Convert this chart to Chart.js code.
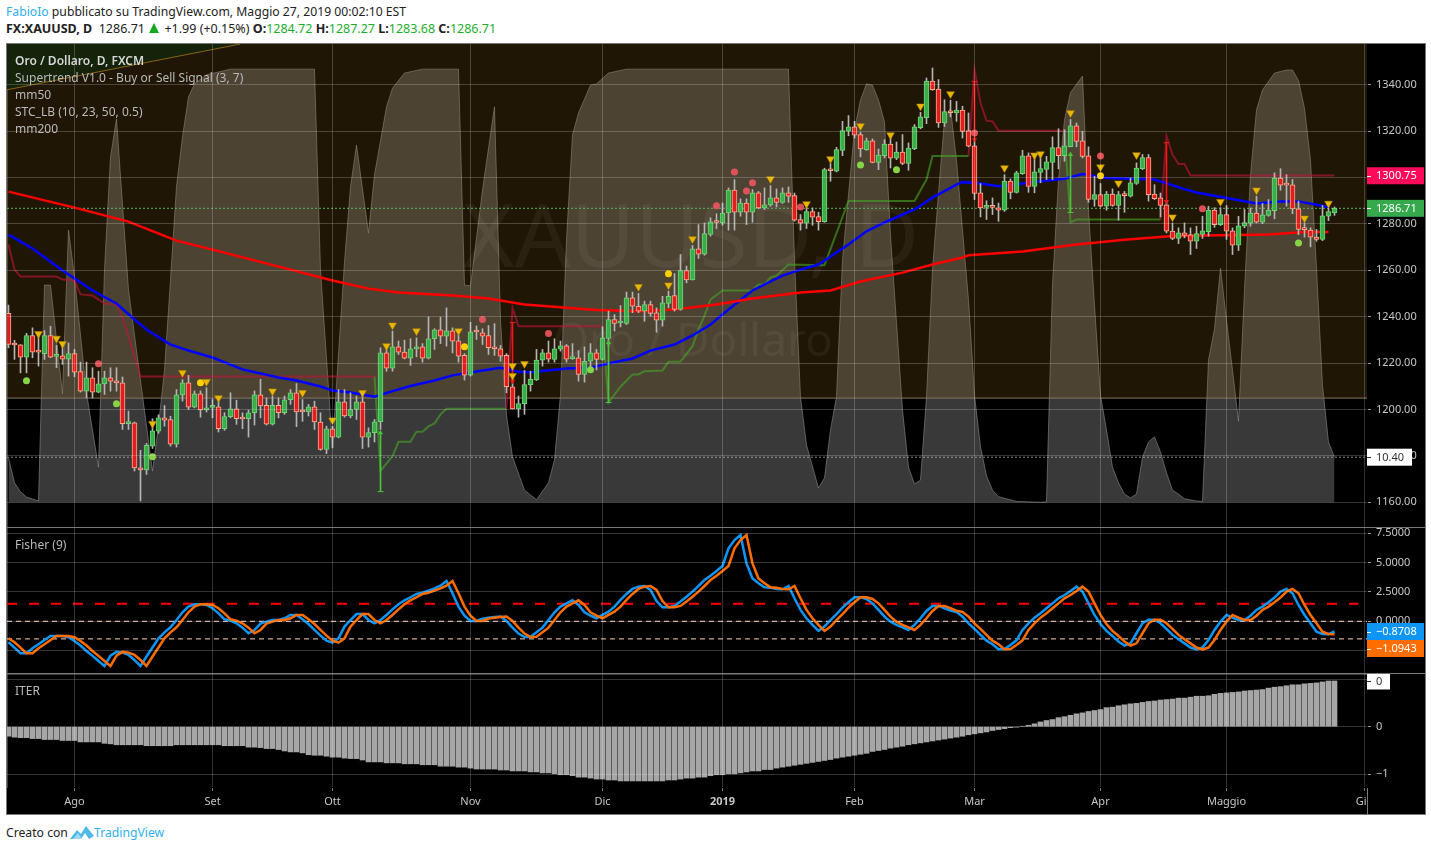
<!DOCTYPE html>
<html lang="it">
<head>
<meta charset="utf-8">
<title>XAUUSD</title>
<script src="https://cdn.jsdelivr.net/npm/chart.js@4/dist/chart.umd.min.js"></script>
<style>
    html, body { margin: 0; padding: 0; background: #fff; width: 1431px; height: 851px; overflow: hidden; }
    body { font-family: "Noto Sans", sans-serif; position: relative; }
    canvas { position: absolute; left: 7px; }
    .abs { position: absolute; white-space: nowrap; }
    #line1 { left: 6px; top: 3px; font-size: 12.2px; line-height: 18px; color: #222; }
    #line2 { left: 6px; top: 20px; font-size: 12.5px; line-height: 18px; color: #222; }
    #line1 .user, #footer .brand { color: #2fb0ee; }
    #line2 b { font-weight: 700; }
    #line2 .g { color: #1eae2e; }
    #line2 .tri { display: inline-block; width: 0; height: 0; border-left: 5.5px solid transparent; border-right: 5.5px solid transparent; border-bottom: 10px solid #12a81f; margin: 0 2px 0 1px; }
    #frame { left: 6px; top: 43px; width: 1418px; height: 770px; background: #000; border: 1px solid #787878; }
    .split { left: 7px; width: 1418px; height: 1px; background: #787878; z-index: 3; }
    #axisCorner { left: 1367px; top: 788px; width: 57px; height: 26px; background: #000; border-left: 1px solid #787878; z-index: 3; }
    .legend { left: 15px; font-size: 12px; line-height: 17px; color: #b9b9b9; z-index: 4; }
    .legend b { color: #d6d6d6; font-weight: 600; }
    #footer { left: 6px; top: 824px; font-size: 12.2px; line-height: 18px; color: #222; }
    #footer svg { vertical-align: -3px; margin: 0 0 0 -1px; }
</style>
</head>
<body>
<div class="abs" id="line1"><span class="user">FabioIo</span> pubblicato su TradingView.com, Maggio 27, 2019 00:02:10 EST</div>
<div class="abs" id="line2"><b>FX:XAUUSD, D</b>&nbsp; 1286.71 <span class="tri"></span> +1.99 (+0.15%) <b>O:</b><span class="g">1284.72</span> <b>H:</b><span class="g">1287.27</span> <b>L:</b><span class="g">1283.68</span> <b>C:</b><span class="g">1286.71</span></div>
<div class="abs" id="frame"></div>
<canvas id="mainChart" width="1418" height="483" style="top:44px"></canvas>
<canvas id="fisherChart" width="1418" height="145" style="top:528px"></canvas>
<canvas id="iterChart" width="1418" height="140" style="top:674px"></canvas>
<div class="abs split" style="top:527px"></div>
<div class="abs split" style="top:673px"></div>
<div class="abs" id="axisCorner"></div>
<div class="abs legend" style="top:52px"><b>Oro / Dollaro, D, FXCM</b><br>Supertrend V1.0 - Buy or Sell Signal (3, 7)<br>mm50<br>STC_LB (10, 23, 50, 0.5)<br>mm200</div>
<div class="abs legend" style="top:536px">Fisher (9)</div>
<div class="abs legend" style="top:682px">ITER</div>
<div class="abs" id="footer">Creato con <svg width="24" height="16" viewBox="0 0 24 16"><path d="M0 15 L7 6 L11 10 L16 2 L24 12 L19 15 L15 9 L11 15 Z" fill="#4fb9e8"/><path d="M3 15 L8 9 L12 15 Z" fill="#9bdcf4"/></svg><span class="brand">TradingView</span></div>

<script>
// ==========================================
// DATI
// ==========================================
const monthIdx = [11, 34, 54, 77, 99, 119, 141, 161, 182, 203, 226];
const monthLabels = ['Ago', 'Set', 'Ott', 'Nov', 'Dic', '2019', 'Feb', 'Mar', 'Apr', 'Maggio', 'Giu'];
const priceTicks = [1340, 1320, 1300, 1280, 1260, 1240, 1220, 1200, 1180, 1160];
const fisherTicks = [7.5, 5, 2.5, 0, -2.5];
const fisherTickLabels = ['7.5000', '5.0000', '2.5000', '0.0000', '\u22122.5000'];
const iterTicks = [1, 0, -1];
const iterTickLabels = ['1', '0', '\u22121'];

const candleOpen = [
    1241.4,1228.0,1227.9,1222.6,1231.9,1224.9,1224.1,1231.9,1222.9,1223.1,
    1221.7,1224.1,1216.3,1207.9,1213.7,1207.5,1211.0,1213.7,1212.4,1211.5,
    1193.9,1194.3,1174.9,1173.9,1184.2,1190.7,1196.4,1195.7,1185.0,1206.3,
    1211.5,1201.0,1206.8,1199.8,1200.9,1201.2,1191.7,1196.9,1200.3,1196.1,
    1196.0,1198.6,1206.3,1201.8,1193.7,1201.8,1198.6,1204.2,1207.2,1199.1,
    1198.9,1201.2,1194.6,1182.8,1191.7,1188.1,1203.3,1197.2,1200.0,1203.3,
    1188.1,1190.0,1194.7,1224.4,1217.8,1227.0,1224.7,1222.1,1226.1,1227.0,
    1222.1,1230.5,1234.3,1231.6,1233.9,1229.6,1223.3,1214.8,1233.6,1233.0,
    1231.9,1226.4,1226.1,1223.3,1209.8,1200.3,1202.5,1210.7,1212.7,1221.3,
    1224.4,1221.6,1226.1,1227.4,1221.9,1222.3,1215.1,1220.8,1224.4,1221.6,
    1230.6,1238.8,1237.3,1237.1,1248.1,1244.5,1242.4,1245.2,1241.7,1238.5,
    1245.7,1249.1,1243.1,1259.9,1255.8,1269.2,1266.9,1275.5,1280.8,1280.4,
    1284.7,1294.6,1285.0,1289.0,1285.0,1293.4,1286.9,1288.2,1291.2,1289.3,
    1293.4,1292.2,1281.9,1280.3,1285.3,1283.2,1281.0,1303.1,1302.7,1311.7,
    1320.0,1321.8,1318.5,1312.0,1315.8,1306.5,1309.4,1314.4,1308.3,1311.0,
    1306.1,1312.4,1321.5,1325.8,1341.6,1338.1,1323.5,1328.1,1327.8,1329.1,
    1320.2,1313.7,1293.4,1287.1,1287.3,1286.9,1285.9,1298.5,1293.6,1301.7,
    1309.3,1296.2,1302.2,1303.5,1306.5,1312.9,1309.4,1313.3,1322.3,1315.8,
    1309.3,1290.6,1292.6,1287.6,1292.9,1288.0,1292.4,1291.9,1297.4,1303.8,
    1308.6,1292.9,1291.2,1288.2,1276.9,1273.7,1276.1,1275.3,1272.5,1275.5,
    1276.7,1286.0,1279.7,1284.0,1277.0,1270.8,1279.0,1280.3,1284.7,1280.7,
    1283.7,1285.7,1299.8,1296.9,1296.8,1286.5,1277.7,1277.3,1274.3,1273.3,
    1283.3,1284.72
];
const candleClose = [
    1228.0,1227.8,1222.6,1231.9,1224.7,1224.7,1231.9,1222.6,1223.1,1221.7,
    1224.1,1216.1,1207.9,1213.7,1207.5,1211.1,1213.7,1212.2,1211.4,1193.9,
    1194.1,1174.8,1173.9,1184.5,1190.8,1196.4,1195.4,1185.0,1206.3,1211.5,
    1201.0,1206.8,1199.8,1200.7,1201.1,1191.7,1196.9,1200.3,1196.0,1195.9,
    1198.6,1206.3,1201.5,1193.7,1201.8,1198.6,1204.2,1207.2,1198.9,1198.9,
    1201.2,1194.6,1182.8,1191.7,1188.1,1203.3,1197.2,1200.0,1203.3,1188.1,
    1190.0,1194.7,1224.4,1217.8,1227.0,1224.7,1222.1,1226.1,1227.0,1222.1,
    1230.5,1234.3,1231.6,1233.9,1229.5,1223.0,1214.8,1233.5,1233.4,1231.6,
    1226.6,1226.2,1223.0,1209.8,1200.3,1202.6,1210.7,1213.0,1221.3,1224.4,
    1221.7,1226.1,1227.4,1221.7,1222.1,1215.1,1220.8,1224.4,1221.6,1230.9,
    1238.8,1237.1,1237.5,1248.1,1244.5,1242.4,1245.2,1241.4,1238.5,1246.0,
    1248.8,1243.1,1259.9,1255.8,1269.2,1266.9,1275.8,1280.9,1280.6,1284.7,
    1294.6,1285.0,1289.0,1285.0,1293.4,1286.9,1288.2,1291.2,1289.3,1293.4,
    1291.9,1281.6,1280.3,1285.3,1282.9,1281.0,1303.4,1302.9,1312.0,1320.2,
    1321.8,1318.2,1312.3,1315.8,1306.5,1309.7,1314.4,1308.3,1311.0,1306.1,
    1312.7,1321.8,1326.1,1341.6,1337.9,1323.5,1328.4,1327.9,1329.1,1319.9,
    1313.5,1293.1,1286.9,1287.3,1287.1,1285.9,1298.5,1293.6,1302.0,1309.3,
    1296.2,1302.4,1303.8,1306.8,1312.9,1309.4,1313.6,1322.3,1315.6,1309.1,
    1290.6,1292.6,1287.6,1292.9,1288.0,1292.6,1292.2,1297.7,1304.1,1308.6,
    1292.6,1290.9,1288.0,1276.9,1273.7,1276.1,1275.0,1272.5,1275.8,1277.0,
    1286.0,1279.7,1284.0,1276.9,1270.8,1279.2,1280.6,1284.7,1280.7,1283.9,
    1286.0,1299.8,1296.7,1296.7,1286.5,1277.6,1277.5,1274.3,1273.3,1283.5,
    1285.3,1286.71
];
const candleHigh = [
    1245.0,1229.8,1228.0,1232.8,1235.2,1232.0,1234.0,1235.9,1227.6,1228.0,
    1228.7,1225.9,1220.4,1220.4,1218.0,1216.5,1216.5,1218.0,1218.0,1214.0,
    1199.3,1194.6,1182.4,1185.4,1196.0,1197.7,1201.7,1197.1,1208.6,1212.9,
    1214.7,1208.0,1208.0,1209.4,1204.3,1203.6,1198.6,1207.2,1204.0,1198.6,
    1199.7,1208.0,1213.0,1205.0,1205.8,1205.0,1205.8,1208.6,1211.2,1204.3,
    1202.2,1203.6,1198.6,1192.8,1192.8,1208.6,1208.6,1207.2,1205.8,1205.8,
    1192.1,1195.7,1226.6,1226.6,1233.8,1229.5,1229.9,1230.5,1230.9,1228.4,
    1239.9,1234.8,1239.8,1243.8,1235.2,1232.0,1224.1,1237.6,1236.0,1234.8,
    1236.2,1237.0,1227.6,1224.1,1212.0,1205.8,1216.8,1216.5,1225.9,1225.9,
    1229.5,1230.5,1229.5,1228.0,1228.4,1225.4,1227.0,1228.4,1225.9,1235.6,
    1242.4,1240.9,1244.8,1250.6,1250.6,1250.0,1246.7,1246.7,1243.8,1248.8,
    1251.0,1258.6,1266.8,1261.8,1270.7,1279.7,1280.4,1282.6,1284.4,1289.0,
    1295.5,1299.1,1290.8,1290.8,1294.8,1294.0,1295.5,1296.5,1295.1,1295.5,
    1295.9,1293.3,1284.0,1287.0,1286.9,1285.0,1304.0,1306.0,1313.0,1324.2,
    1326.7,1324.2,1319.5,1317.0,1316.6,1312.3,1316.3,1317.0,1315.3,1318.5,
    1314.9,1322.8,1328.1,1342.9,1347.2,1342.2,1333.5,1333.3,1332.8,1330.7,
    1327.8,1315.6,1297.4,1290.0,1291.2,1289.0,1301.2,1299.4,1302.7,1311.7,
    1310.6,1310.0,1309.1,1309.1,1317.5,1321.0,1320.6,1325.0,1323.5,1319.9,
    1313.2,1300.5,1297.4,1294.0,1295.1,1294.0,1294.0,1299.8,1306.3,1309.9,
    1309.9,1296.9,1293.3,1289.3,1280.4,1278.3,1280.4,1278.3,1279.0,1283.3,
    1287.6,1287.0,1287.0,1287.9,1278.3,1283.3,1286.2,1286.9,1291.9,1288.8,
    1290.5,1302.0,1303.8,1301.2,1299.1,1289.8,1280.4,1278.3,1277.6,1287.9,
    1286.9,1287.27
];
const candleLow = [
    1226.6,1221.6,1215.8,1215.8,1222.3,1218.7,1221.6,1222.3,1218.0,1219.4,
    1214.4,1214.1,1207.5,1205.0,1205.0,1207.2,1206.5,1207.9,1207.9,1191.4,
    1191.4,1173.5,1160.6,1172.0,1183.2,1189.7,1192.8,1184.2,1183.8,1203.6,
    1200.0,1200.7,1196.7,1198.9,1196.4,1190.3,1191.0,1196.4,1193.6,1191.7,
    1188.1,1193.3,1196.4,1193.3,1193.3,1196.4,1197.9,1202.2,1192.6,1194.9,
    1197.2,1191.4,1182.4,1181.0,1183.5,1187.8,1196.7,1196.4,1195.7,1183.2,
    1183.8,1186.0,1191.4,1216.5,1216.5,1223.7,1221.8,1219.0,1222.7,1220.4,
    1221.8,1225.9,1228.4,1227.3,1224.4,1220.4,1212.7,1214.4,1230.2,1228.0,
    1223.7,1223.3,1220.8,1207.2,1200.2,1196.7,1197.9,1207.9,1212.5,1218.7,
    1220.4,1220.4,1225.2,1220.4,1221.6,1212.2,1211.8,1217.3,1217.0,1221.3,
    1227.3,1233.8,1235.6,1236.6,1241.7,1241.7,1238.0,1240.2,1233.3,1235.9,
    1243.8,1242.4,1242.8,1254.6,1255.8,1265.1,1266.5,1274.7,1278.0,1279.4,
    1277.3,1277.3,1283.3,1279.7,1280.7,1286.5,1286.2,1287.6,1287.3,1288.8,
    1289.3,1281.2,1277.3,1278.0,1279.4,1277.3,1280.7,1298.4,1302.4,1309.4,
    1318.0,1317.0,1308.9,1311.7,1306.3,1303.4,1308.4,1304.1,1307.7,1305.5,
    1303.1,1312.0,1321.0,1323.2,1337.6,1321.6,1322.0,1326.1,1324.2,1317.0,
    1313.2,1290.5,1283.0,1281.9,1284.0,1281.1,1285.4,1290.8,1293.3,1301.3,
    1293.6,1293.4,1297.7,1299.1,1299.1,1303.7,1307.0,1313.2,1313.2,1308.4,
    1289.3,1287.6,1287.3,1285.9,1287.6,1281.6,1285.0,1291.6,1297.0,1303.4,
    1289.8,1290.5,1283.0,1276.1,1273.2,1271.5,1274.0,1266.8,1269.4,1273.7,
    1274.7,1278.5,1279.3,1273.3,1266.8,1268.5,1278.3,1279.0,1280.4,1280.1,
    1283.3,1282.2,1294.5,1287.6,1284.4,1275.4,1274.3,1270.1,1272.5,1272.8,
    1281.4,1283.68
];

// medie mobili: indice della barra + valore
const mm50Idx = [0,4,9,11,14,18,21,23,27,30,34,39,45,48,52,54,57,61,64,67,71,74,78,82,85,87,93,97,100,104,107,111,114,117,120,124,129,132,135,140,143,146,151,154,158,159,162,165,169,172,176,179,183,189,191,196,198,203,208,212,215,220];
const mm50 = [1275.4,1269.4,1259.9,1256.5,1251.3,1245.7,1238.8,1234.5,1228.0,1225.4,1222.4,1217.3,1213.8,1212.5,1209.9,1208.2,1207.3,1205.5,1207.9,1210.1,1212.5,1214.7,1216.4,1218.0,1216.3,1216.1,1217.7,1218.0,1219.8,1222.0,1225.4,1228.0,1231.9,1236.6,1243.1,1251.3,1257.7,1260.3,1262.5,1271.1,1276.8,1280.6,1286.2,1291.3,1296.9,1298.0,1297.4,1296.2,1297.4,1298.4,1299.5,1301.5,1299.8,1299.4,1299.1,1295.0,1293.5,1291.2,1288.8,1289.7,1289.7,1287.3];
const mm200Idx = [0,11,20,28,34,47,54,60,65,74,80,86,98,105,111,118,124,132,137,142,149,154,159,160,169,178,186,194,210,216,220];
const mm200 = [1293.9,1287.0,1281.0,1272.8,1268.9,1260.3,1255.6,1252.1,1250.4,1249.1,1247.8,1245.3,1242.9,1242.4,1243.1,1245.3,1247.8,1250.4,1251.3,1255.2,1259.0,1262.5,1265.5,1266.5,1268.1,1271.1,1273.2,1274.8,1275.4,1276.5,1276.5];

// supertrend: null spezza la linea tra un tratto e l'altro
const stDownIdx = [0,1,2,8,9,11,12,14,16,18,19,20,22,61,61,83,84,85,99,99,160,161,162,163,164,165,176,176,192,193,194,195,196,197,221];
const stDown = [1271.1,1260.3,1257.3,1257.3,1256.0,1255.6,1249.6,1249.1,1245.7,1245.3,1239.7,1231.5,1214.2,1214.2,null,1200.3,1243.8,1235.9,1235.9,null,1309.3,1346.5,1332.1,1324.5,1324.2,1320.2,1320.2,null,1281.9,1318.0,1309.9,1305.8,1305.8,1300.9,1300.9];
const stUpIdx = [61,62,64,65,67,68,69,70,71,72,73,83,83,99,100,102,104,105,106,109,110,112,114,115,116,117,119,124,125,126,127,128,130,136,140,151,153,154,160,160,176,177,178,192];
const stUp = [1214.2,1173.5,1179.9,1186.1,1186.1,1190.4,1190.4,1192.7,1194.0,1197.9,1200.3,1200.3,null,1235.9,1203.0,1209.8,1215.1,1215.1,1216.5,1216.8,1220.6,1220.6,1227.3,1234.5,1240.5,1247.4,1251.3,1251.3,1253.9,1253.9,1256.9,1257.7,1262.5,1262.2,1289.9,1289.9,1299.1,1309.3,1309.3,null,1320.2,1280.7,1281.9,1281.9];
const upArrowIdx = [62, 100, 177];
const upArrowLow = [1164.6, 1203.0, 1284.9];
const upArrowHigh = [1190.0, 1228.9, 1309.9];
const downArrowIdx = [84, 161, 193];
const downArrowLow = [1212.2, 1316.3, 1289.6];
const downArrowHigh = [1237.5, 1341.4, 1315.0];

// segnali
const signalDownIdx = [5,8,9,24,29,33,35,44,49,54,59,63,64,68,75,84,84,86,105,110,114,127,133,137,142,147,152,157,166,171,172,177,182,185,188,194,202,208,216,220];
const signalDown = [1232.6,1230.6,1228.3,1193.9,1215.8,1212.0,1205.0,1207.9,1207.2,1195.4,1207.2,1227.4,1236.3,1233.8,1233.8,1218.8,1214.5,1219.7,1252.9,1253.6,1273.5,1299.4,1288.6,1308.0,1322.2,1318.3,1330.7,1336.0,1304.1,1309.6,1310.1,1327.8,1304.5,1297.5,1309.7,1282.9,1289.5,1294.5,1282.4,1288.8];
const redDotIdx = [15,79,90,118,121,123,124,132,161,182,199];
const redDot = [1219.7,1238.8,1232.8,1287.8,1302.4,1294.2,1297.7,1287.3,1319.2,1309.3,1286.5];
const yellowDotIdx = [32,76,110,182];
const yellowDot = [1211.5,1227.0,1258.5,1300.7];
const greenDotIdx = [3,18,24,97,142,148,215];
const greenDot = [1212.4,1202.5,1179.6,1217.1,1305.4,1303.3,1271.8];

// STC_LB disegnato come area
const stcIdx = [0,1,2,3,5,6,7,9,10,11,13,15,16,17,18,20,24,25,26,27,28,29,30,31,33,37,51,52,54,56,57,58,60,61,63,64,66,69,75,76,77,79,81,82,83,84,86,88,90,91,92,93,94,95,97,98,100,103,130,131,132,133,135,136,137,138,139,141,142,143,144,145,146,147,149,150,151,152,153,154,155,156,157,158,159,160,161,162,163,164,165,168,172,173,174,175,176,177,179,180,181,182,183,184,185,186,187,188,189,190,191,192,193,194,195,196,198,199,200,201,202,203,204,205,206,207,208,209,211,213,214,215,216,217,218,219,220,221];
const stc = [10.2,4.5,2.4,1.2,0.3,50.1,50.1,25.0,62.8,52.0,25.2,8.1,53.6,79.6,88.4,49.0,7.2,17.8,30.5,51.3,72.8,84.3,93.5,96.5,98.6,99.9,99.9,53.6,12.8,55.4,72.7,82.4,62.1,75.5,91.2,95.5,99.0,99.9,99.9,50.1,49.9,72.0,91.2,42.0,20.1,10.5,2.8,0.6,4.5,9.8,24.7,60.5,84.7,89.8,96.2,96.5,99.0,99.9,99.9,55.9,24.3,13.2,3.3,5.6,16.7,24.3,55.9,85.9,92.8,96.5,96.2,92.8,87.7,61.6,21.3,8.1,4.2,5.1,24.3,53.6,71.3,88.2,90.9,78.9,62.8,46.7,24.7,12.8,6.1,2.8,1.3,0.2,0,0.1,50.1,74.3,88.2,94.5,98.3,67.4,45.5,24.7,16.7,8.1,4.5,1.9,1.0,1.9,10.4,13.9,15.1,11.6,6.8,2.8,1.9,0.8,0.3,0.2,32.8,40.0,54.0,42.0,30.5,18.7,49.0,75.5,90.5,95.1,99.0,99.7,99.7,97.3,90.9,78.9,54.0,27.0,13.9,10.4];

// zona di sfondo e linea obliqua in alto a sinistra
const bandLevel = 1204.9;
const slopeIdx = [-0.25, 38.6];
const slopeVal = [1337.8, 1357.5];

// Fisher
const fisher = [
    -1.79,-2.24,-2.73,-2.73,-2.3,-1.96,-1.59,-1.25,-1.25,-1.25,
    -1.36,-1.68,-2.07,-2.53,-2.95,-3.38,-3.81,-2.93,-2.61,-2.67,
    -2.87,-3.3,-3.81,-3,-2.24,-1.45,-.94,-.51,.11,.77,
    1.25,1.45,1.45,1.39,1.11,.68,.17,.06,-.17,-.54,
    -1.02,-.74,-.2,-.03,.11,.11,.26,.54,.54,.17,
    -.23,-.74,-1.22,-1.65,-1.82,-1.45,-.45,.11,.62,.62,
    .11,-.17,.11,.54,1.02,1.45,1.79,2.05,2.33,2.44,
    2.61,2.81,3.04,3.44,2.39,1.25,.48,.03,.03,.23,
    .31,.37,.4,.03,-.54,-1.05,-1.34,-1.31,-.94,-.54,
    .11,.77,1.25,1.53,1.79,1.39,.77,.48,.26,.54,
    .82,1.25,1.82,2.33,2.76,2.95,3.01,2.67,1.73,1.19,
    1.19,1.31,1.68,2.1,2.53,3.01,3.52,3.89,4.29,4.72,
    6.22,6.93,7.36,4.94,3.66,3.24,2.9,2.87,2.76,2.73,
    3.01,1.96,.97,.26,-.31,-.82,-.45,.11,.62,1.16,
    1.62,2.05,2.05,1.9,1.53,.97,.4,-.03,-.31,-.51,
    -.74,-.31,.26,.88,1.31,1.31,1.11,.91,.8,.4,
    -.17,-.65,-1.16,-1.65,-1.96,-2.39,-2.36,-2.02,-1.62,-.74,
    -.17,.31,.68,1.11,1.53,1.96,2.24,2.58,2.95,2.53,
    1.53,.54,-.23,-.82,-1.25,-1.73,-2.07,-1.88,-1.02,-.17,
    .14,.14,-.17,-.65,-1.16,-1.53,-1.88,-2.24,-2.39,-2.24,
    -1.59,-.74,-.03,.54,.31,.11,.11,.48,.97,1.25,
    1.62,2.02,2.53,2.76,2.39,1.39,.54,-.17,-.88,-1.08,
    -1.0943,-.8708
];
const fisherTrigger = [
    -1.45,-1.79,-2.24,-2.73,-2.73,-2.3,-1.96,-1.59,-1.25,-1.25,
    -1.25,-1.36,-1.68,-2.07,-2.53,-2.95,-3.38,-3.81,-2.93,-2.61,
    -2.67,-2.87,-3.3,-3.81,-3,-2.24,-1.45,-.94,-.51,.11,
    .77,1.25,1.45,1.45,1.39,1.11,.68,.17,.06,-.17,
    -.54,-1.02,-.74,-.2,-.03,.11,.11,.26,.54,.54,
    .17,-.23,-.74,-1.22,-1.65,-1.82,-1.45,-.45,.11,.62,
    .62,.11,-.17,.11,.54,1.02,1.45,1.79,2.05,2.33,
    2.44,2.61,2.81,3.04,3.44,2.39,1.25,.48,.03,.03,
    .23,.31,.37,.4,.03,-.54,-1.05,-1.34,-1.31,-.94,
    -.54,.11,.77,1.25,1.53,1.79,1.39,.77,.48,.26,
    .54,.82,1.25,1.82,2.33,2.76,2.95,3.01,2.67,1.73,
    1.19,1.19,1.31,1.68,2.1,2.53,3.01,3.52,3.89,4.29,
    4.72,6.22,6.93,7.36,4.94,3.66,3.24,2.9,2.87,2.76,
    2.73,3.01,1.96,.97,.26,-.31,-.82,-.45,.11,.62,
    1.16,1.62,2.05,2.05,1.9,1.53,.97,.4,-.03,-.31,
    -.51,-.74,-.31,.26,.88,1.31,1.31,1.11,.91,.8,
    .4,-.17,-.65,-1.16,-1.65,-1.96,-2.39,-2.36,-2.02,-1.62,
    -.74,-.17,.31,.68,1.11,1.53,1.96,2.24,2.58,2.95,
    2.53,1.53,.54,-.23,-.82,-1.25,-1.73,-2.07,-1.88,-1.02,
    -.17,.14,.14,-.17,-.65,-1.16,-1.53,-1.88,-2.24,-2.39,
    -2.24,-1.59,-.74,-.03,.54,.31,.11,.11,.48,.97,
    1.25,1.62,2.02,2.53,2.76,2.39,1.39,.54,-.17,-.88,
    -1.08,-1.0943
];
const fisherRedLevel = 1.5;
const fisherLevels = [0, -1.5];

// ITER
const iter = [
    -.2,-.22,-.23,-.23,-.25,-.25,-.27,-.27,-.27,-.29,
    -.29,-.29,-.32,-.32,-.32,-.32,-.35,-.36,-.38,-.38,
    -.38,-.38,-.38,-.4,-.4,-.4,-.4,-.4,-.38,-.38,
    -.38,-.38,-.38,-.38,-.38,-.38,-.4,-.4,-.4,-.4,
    -.43,-.43,-.44,-.46,-.46,-.48,-.51,-.53,-.53,-.55,
    -.59,-.6,-.6,-.62,-.64,-.64,-.66,-.67,-.67,-.7,
    -.74,-.74,-.74,-.76,-.76,-.76,-.78,-.78,-.78,-.8,
    -.8,-.8,-.83,-.83,-.83,-.85,-.85,-.87,-.89,-.89,
    -.89,-.89,-.91,-.91,-.93,-.93,-.93,-.95,-.95,-.97,
    -.97,-.99,-1.01,-1.01,-1.03,-1.06,-1.06,-1.08,-1.1,-1.1,
    -1.12,-1.12,-1.14,-1.14,-1.14,-1.14,-1.14,-1.14,-1.14,-1.14,
    -1.12,-1.12,-1.1,-1.08,-1.08,-1.06,-1.06,-1.03,-1.01,-1.01,
    -.99,-.99,-.97,-.95,-.93,-.93,-.9,-.9,-.87,-.85,
    -.83,-.81,-.79,-.77,-.75,-.73,-.71,-.69,-.66,-.64,
    -.62,-.6,-.58,-.56,-.52,-.5,-.48,-.45,-.43,-.41,
    -.38,-.36,-.34,-.32,-.3,-.28,-.26,-.24,-.22,-.2,
    -.17,-.15,-.13,-.11,-.08,-.06,-.04,-.02,-.01,.01,
    .03,.06,.1,.13,.15,.19,.21,.24,.27,.29,
    .32,.34,.36,.4,.41,.44,.46,.48,.49,.51,
    .53,.54,.56,.57,.58,.6,.6,.62,.64,.64,
    .65,.68,.7,.71,.72,.73,.75,.76,.77,.78,
    .81,.83,.84,.86,.88,.88,.9,.91,.92,.94,
    .96,.96
];

const lastPrice = 1286.71;
const supertrendTag = 1300.75;
const stcLast = 10.40;
const fisherLastTexts = ['\u22120.8708', '\u22121.0943'];
const iterLast = 0.96;

// ==========================================
// IMPOSTAZIONI COMUNI
// ==========================================
const xMin = -0.25;
const xMax = 226.4167;
const gridColor = 'rgba(255,255,255,0.2)';
const axisColor = '#787878';
const labelColor = '#c6c6c6';
const axisFont = { family: '"Noto Sans", sans-serif', size: 11 };

function points(xs, ys) {
    return xs.map((x, k) => ({ x: x, y: ys[k] }));
}

function pinY(ax) {
    ax.width = 58;
    ax.paddingTop = 0;
    ax.paddingBottom = 0;
}

function xAxis(showLabels) {
    return {
        type: 'linear',
        min: xMin,
        max: xMax,
        offset: false,
        grid: { color: gridColor, z: 1, offset: false, drawTicks: showLabels, tickLength: 4, tickColor: axisColor },
        border: { display: showLabels, color: axisColor },
        ticks: {
            display: showLabels,
            autoSkip: false,
            maxRotation: 0,
            padding: 4,
            color: labelColor,
            font: ctx => ctx.index === 5 ? { ...axisFont, weight: '700' } : axisFont,
            callback: (v, i) => monthLabels[i]
        },
        afterBuildTicks: ax => { ax.ticks = monthIdx.map(v => ({ value: v })); },
        afterFit: ax => {
            ax.height = showLabels ? 27 : 0;
            ax.paddingLeft = 0;
            ax.paddingRight = 0;
        }
    };
}

function yAxis(min, max, tickValues, tickText) {
    return {
        position: 'right',
        min: min,
        max: max,
        grid: { color: gridColor, z: 1, tickLength: 4, tickColor: '#9a9a9a' },
        border: { color: axisColor },
        ticks: { autoSkip: false, padding: 5, color: labelColor, font: axisFont, callback: tickText },
        afterBuildTicks: ax => { ax.ticks = tickValues.map(v => ({ value: v })); },
        afterFit: pinY
    };
}

// etichette colorate sull'asse dei prezzi
const axisTags = {
    id: 'axisTags',
    afterDraw(chart, args, opts) {
        const ctx = chart.ctx;
        const left = chart.chartArea.right;
        let prevY = -100;
        (opts.items || []).forEach(tag => {
            let y = chart.scales[tag.scale].getPixelForValue(tag.value);
            if (y - prevY < 17) y = prevY + 17;
            prevY = y;
            ctx.save();
            ctx.fillStyle = tag.bg;
            ctx.fillRect(left, y - 8.5, tag.width, 17);
            ctx.fillStyle = tag.fg;
            ctx.fillRect(left, Math.round(y), 4, 1);
            ctx.font = '11px "Noto Sans", sans-serif';
            ctx.textBaseline = 'middle';
            ctx.fillText(tag.text, left + 9, y + 0.5);
            ctx.restore();
        });
    }
};

// scritte grandi in trasparenza, subito sopra lo sfondo
const watermark = {
    id: 'watermark',
    afterDatasetDraw(chart, args) {
        if (args.meta.label !== 'sfondo') return;
        const ctx = chart.ctx;
        const mid = (chart.chartArea.left + chart.chartArea.right) / 2;
        ctx.save();
        ctx.textAlign = 'center';
        ctx.textBaseline = 'middle';
        ctx.fillStyle = 'rgba(255,255,255,0.05)';
        ctx.font = '88px "Noto Sans", sans-serif';
        ctx.fillText('XAUUSD, D', mid + 4, 198);
        ctx.font = '46px "Noto Sans", sans-serif';
        ctx.fillText('Oro / Dollaro', mid + 6, 299);
        ctx.restore();
    }
};

// ==========================================
// 1. GRAFICO PRINCIPALE
// ==========================================
const candleUp = candleOpen.map((o, i) => candleClose[i] >= o);

new Chart(document.getElementById('mainChart'), {
    type: 'bar',
    data: {
        datasets: [
            { type: 'line', label: 'STC_LB', order: 100, yAxisID: 'yStc', data: points(stcIdx, stc), borderColor: 'rgba(150,150,150,0.55)', borderWidth: 1, pointRadius: 0, fill: { value: 0 }, backgroundColor: 'rgba(255,255,255,0.225)' },
            { type: 'line', label: 'sfondo', order: 95, data: points([xMin, xMax], [bandLevel, bandLevel]), borderColor: '#85755f', borderWidth: 1, pointRadius: 0, fill: 'end', backgroundColor: 'rgba(154,106,24,0.207)' },
            { type: 'line', label: 'obliqua', order: 94, data: points(slopeIdx, slopeVal), borderColor: '#8a6414', borderWidth: 1, pointRadius: 0, fill: 'end', backgroundColor: '#14230a' },
            { type: 'line', label: 'STC last', order: 89, yAxisID: 'yStc', data: points([xMin, xMax], [stcLast, stcLast]), borderColor: 'rgba(190,190,190,0.7)', borderWidth: 1, borderDash: [2, 2], pointRadius: 0 },
            { type: 'line', label: 'Ultimo', order: 88, data: points([xMin, xMax], [lastPrice, lastPrice]), borderColor: '#5fb06a', borderWidth: 1, borderDash: [2, 2], pointRadius: 0 },
            { type: 'line', label: 'Supertrend giu', order: 60, data: points(stDownIdx, stDown), borderColor: 'rgba(190,20,60,0.62)', borderWidth: 2, pointRadius: 0, spanGaps: false },
            { type: 'line', label: 'Supertrend su', order: 60, data: points(stUpIdx, stUp), borderColor: 'rgba(70,165,40,0.62)', borderWidth: 2, pointRadius: 0, spanGaps: false },
            { type: 'line', label: 'mm200', order: 50, data: points(mm200Idx, mm200), borderColor: '#ff0000', borderWidth: 2.5, pointRadius: 0 },
            { type: 'line', label: 'mm50', order: 50, data: points(mm50Idx, mm50), borderColor: '#0000ff', borderWidth: 2.5, pointRadius: 0 },
            { label: 'Stoppini', order: 40, grouped: false, barThickness: 1, data: candleLow.map((l, i) => ({ x: i, y: [l, candleHigh[i]] })), backgroundColor: '#b4b4b4', borderWidth: 0 },
            { label: 'Corpi', order: 30, grouped: false, barThickness: 5, minBarLength: 2, borderSkipped: false, borderWidth: 1, data: candleOpen.map((o, i) => ({ x: i, y: [o, candleClose[i]] })), backgroundColor: candleUp.map(u => u ? '#3bae4b' : '#dd1f1f'), borderColor: candleUp.map(u => u ? '#6fd276' : '#ffab8f') },
            { label: 'Freccia su', order: 20, grouped: false, barThickness: 1, data: upArrowIdx.map((x, k) => ({ x: x, y: [upArrowLow[k], upArrowHigh[k]] })), backgroundColor: '#4cc23c', borderWidth: 0 },
            { label: 'Freccia giu', order: 20, grouped: false, barThickness: 1, data: downArrowIdx.map((x, k) => ({ x: x, y: [downArrowLow[k], downArrowHigh[k]] })), backgroundColor: '#f01818', borderWidth: 0 },
            { type: 'line', label: 'Punta su', order: 19, showLine: false, data: points(upArrowIdx, upArrowHigh), pointStyle: 'triangle', pointRadius: 3, backgroundColor: '#4cc23c', borderWidth: 0 },
            { type: 'line', label: 'Base su', order: 19, showLine: false, data: points(upArrowIdx, upArrowLow), pointStyle: 'line', pointRadius: 3, borderColor: '#4cc23c', borderWidth: 1 },
            { type: 'line', label: 'Punta giu', order: 19, showLine: false, data: points(downArrowIdx, downArrowLow), pointStyle: 'triangle', rotation: 180, pointRadius: 3, backgroundColor: '#f01818', borderWidth: 0 },
            { type: 'line', label: 'Base giu', order: 19, showLine: false, data: points(downArrowIdx, downArrowHigh), pointStyle: 'line', pointRadius: 3, borderColor: '#f01818', borderWidth: 1 },
            { type: 'line', label: 'Segnale', order: 10, showLine: false, data: points(signalDownIdx, signalDown), pointStyle: 'triangle', rotation: 180, pointRadius: 4.5, backgroundColor: '#ebb705', borderColor: '#b88f00', borderWidth: 0.5 },
            { type: 'line', label: 'Punti rossi', order: 10, showLine: false, data: points(redDotIdx, redDot), pointRadius: 3.5, backgroundColor: 'rgba(238,85,95,0.9)', borderWidth: 0 },
            { type: 'line', label: 'Punti gialli', order: 10, showLine: false, data: points(yellowDotIdx, yellowDot), pointRadius: 3.5, backgroundColor: '#ffd000', borderWidth: 0 },
            { type: 'line', label: 'Punti verdi', order: 10, showLine: false, data: points(greenDotIdx, greenDot), pointRadius: 3.5, backgroundColor: '#88d448', borderWidth: 0 }
        ]
    },
    options: {
        responsive: false,
        animation: false,
        events: [],
        layout: { padding: 0, autoPadding: false },
        elements: { line: { tension: 0 } },
        plugins: {
            legend: { display: false },
            tooltip: { enabled: false },
            axisTags: { items: [
                { scale: 'y', value: supertrendTag, text: supertrendTag.toFixed(2), bg: '#ff0a5a', fg: '#ffffff', width: 57 },
                { scale: 'y', value: lastPrice, text: lastPrice.toFixed(2), bg: '#36a94c', fg: '#ffffff', width: 57 },
                { scale: 'yStc', value: stcLast, text: stcLast.toFixed(2), bg: '#ffffff', fg: '#333333', width: 45 }
            ] }
        },
        scales: {
            x: xAxis(false),
            y: yAxis(1149.35, 1357.54, priceTicks, v => v.toFixed(2)),
            yStc: { display: false, min: -5.7, max: 105.7 }
        }
    },
    plugins: [axisTags, watermark]
});

// ==========================================
// 2. FISHER
// ==========================================
new Chart(document.getElementById('fisherChart'), {
    type: 'line',
    data: {
        datasets: [
            { label: 'Livello alto', order: 5, data: points([xMin, 225], [fisherRedLevel, fisherRedLevel]), borderColor: '#ff0000', borderWidth: 2, borderDash: [10, 12], pointRadius: 0 },
            { label: 'Livello 0', order: 5, data: points([xMin, xMax], [fisherLevels[0], fisherLevels[0]]), borderColor: '#ffd2be', borderWidth: 1, borderDash: [5, 4], pointRadius: 0 },
            { label: 'Livello basso', order: 5, data: points([xMin, xMax], [fisherLevels[1], fisherLevels[1]]), borderColor: '#ffd2be', borderWidth: 1, borderDash: [5, 4], pointRadius: 0 },
            { label: 'Fisher', order: 2, data: fisher.map((v, i) => ({ x: i, y: v })), borderColor: '#0f96f5', borderWidth: 2.5, pointRadius: 0, tension: 0 },
            { label: 'Trigger', order: 1, data: fisherTrigger.map((v, i) => ({ x: i, y: v })), borderColor: '#ff6d00', borderWidth: 2.5, pointRadius: 0, tension: 0 }
        ]
    },
    options: {
        responsive: false,
        animation: false,
        events: [],
        layout: { autoPadding: false },
        plugins: {
            legend: { display: false },
            tooltip: { enabled: false },
            axisTags: { items: [
                { scale: 'y', value: fisher[fisher.length - 1], text: fisherLastTexts[0], bg: '#0f96f5', fg: '#ffffff', width: 57 },
                { scale: 'y', value: fisherTrigger[fisherTrigger.length - 1], text: fisherLastTexts[1], bg: '#ff6d00', fg: '#ffffff', width: 57 }
            ] }
        },
        scales: {
            x: xAxis(false),
            y: yAxis(-4.408, 7.954, fisherTicks, (v, i) => fisherTickLabels[i])
        }
    },
    plugins: [axisTags]
});

// ==========================================
// 3. ITER E ASSE DEI TEMPI
// ==========================================
new Chart(document.getElementById('iterChart'), {
    type: 'bar',
    data: {
        datasets: [
            { label: 'ITER', grouped: false, barThickness: 5, data: iter.map((v, i) => ({ x: i, y: v })), backgroundColor: '#a6a6a6', borderWidth: 0 }
        ]
    },
    options: {
        responsive: false,
        animation: false,
        events: [],
        layout: { autoPadding: false },
        plugins: {
            legend: { display: false },
            tooltip: { enabled: false },
            axisTags: { items: [
                { scale: 'y', value: iterLast, text: '0', bg: '#ffffff', fg: '#333333', width: 23 }
            ] }
        },
        scales: {
            x: xAxis(true),
            y: yAxis(-1.267, 1.107, iterTicks, (v, i) => iterTickLabels[i])
        }
    },
    plugins: [axisTags]
});
</script>
</body>
</html>
